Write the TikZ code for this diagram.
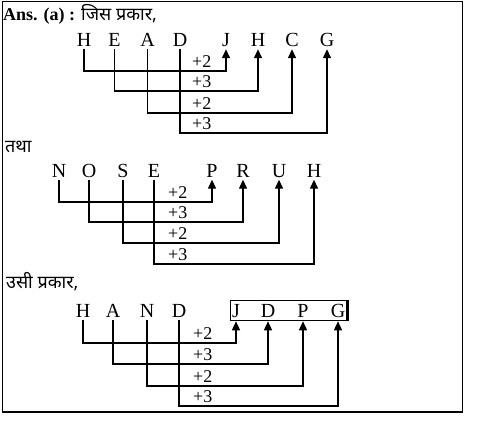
\documentclass[tikz,border=0pt]{standalone}
\usepackage{fontspec}
\setmainfont{Liberation Serif}
\newfontfamily\hindi[Script=Devanagari]{Noto Sans}
\usetikzlibrary{arrows.meta,fit}

\begin{document}
\begin{tikzpicture}[x=1pt, y=-1pt,
    letter/.style={font=\fontsize{20}{20}\selectfont, anchor=base, inner xsep=0pt, inner ysep=2.5pt, text height=13pt, text depth=0pt},
    addlbl/.style={font=\fontsize{18}{18}\selectfont, anchor=base west, inner sep=0pt},
    heading/.style={font=\fontsize{18}{18}\selectfont, anchor=base west, inner sep=0pt},
    link/.style={line width=1.4pt, -{Triangle[width=8pt,length=9pt]}}]
    \useasboundingbox (0,0) rectangle (481,426);
    \draw[line width=1.2pt] (2.5,1.5) rectangle (462.5,412);

    % Part 1: HEAD -> JHCG
    \node[heading] (ans) at (3,20) {\textbf{Ans. (a) :} {\hindi जिस प्रकार,}};
    \node[letter] (s11) at (84,46.5) {H};
    \node[letter] (s12) at (114.5,46.5) {E};
    \node[letter] (s13) at (147.5,46.5) {A};
    \node[letter] (s14) at (180,46.5) {D};
    \node[letter] (t11) at (226,46.5) {J};
    \node[letter] (t12) at (258,46.5) {H};
    \node[letter] (t13) at (292,46.5) {C};
    \node[letter] (t14) at (327,46.5) {G};
    \coordinate (r11) at (0,71);
    \coordinate (r12) at (0,91);
    \coordinate (r13) at (0,113);
    \coordinate (r14) at (0,133);
    \node[addlbl] (p11) at (192,67) {+2};
    \node[addlbl] (p12) at (192,87) {+3};
    \node[addlbl] (p13) at (192,109) {+2};
    \node[addlbl] (p14) at (192,129) {+3};
    \draw[link] (s11.south) |- (r11 -| t11) -- (t11.south);
    \draw[link] (s12.south) |- (r12 -| t12) -- (t12.south);
    \draw[link] (s13.south) |- (r13 -| t13) -- (t13.south);
    \draw[link] (s14.south) |- (r14 -| t14) -- (t14.south);

    % Part 2: NOSE -> PRUH
    \node[heading] (tatha) at (5,152) {\hindi तथा};
    \node[letter] (s21) at (59,177) {N};
    \node[letter] (s22) at (89,177) {O};
    \node[letter] (s23) at (123,177) {S};
    \node[letter] (s24) at (154,177) {E};
    \node[letter] (t21) at (212,177) {P};
    \node[letter] (t22) at (243,177) {R};
    \node[letter] (t23) at (279,177) {U};
    \node[letter] (t24) at (314,177) {H};
    \coordinate (r21) at (0,202);
    \coordinate (r22) at (0,222);
    \coordinate (r23) at (0,243);
    \coordinate (r24) at (0,264);
    \node[addlbl] (p21) at (168,198) {+2};
    \node[addlbl] (p22) at (168,218) {+3};
    \node[addlbl] (p23) at (168,239) {+2};
    \node[addlbl] (p24) at (168,260) {+3};
    \draw[link] (s21.south) |- (r21 -| t21) -- (t21.south);
    \draw[link] (s22.south) |- (r22 -| t22) -- (t22.south);
    \draw[link] (s23.south) |- (r23 -| t23) -- (t23.south);
    \draw[link] (s24.south) |- (r24 -| t24) -- (t24.south);

    % Part 3: HAND -> boxed answer
    \node[heading] (usi) at (6,288) {\hindi उसी प्रकार,};
    \node[letter] (s31) at (83,317) {H};
    \node[letter] (s32) at (113,317) {A};
    \node[letter] (s33) at (147,317) {N};
    \node[letter] (s34) at (179,317) {D};
    \node[letter] (t31) at (236,317) {J};
    \node[letter] (t32) at (268,317) {D};
    \node[letter] (t33) at (303,317) {P};
    \node[letter] (t34) at (338,317) {G};
    \node[draw, line width=1.2pt, inner xsep=1.5pt, inner ysep=1pt, fit=(t31)(t34)] (answer) {};
    \draw[line width=2.6pt] (answer.north east) -- (answer.south east);
    \coordinate (r31) at (0,343);
    \coordinate (r32) at (0,364);
    \coordinate (r33) at (0,386);
    \coordinate (r34) at (0,406);
    \node[addlbl] (p31) at (193,339) {+2};
    \node[addlbl] (p32) at (193,360) {+3};
    \node[addlbl] (p33) at (193,382) {+2};
    \node[addlbl] (p34) at (193,402) {+3};
    \draw[link] (s31.south) |- (r31 -| t31) -- (answer.south -| t31);
    \draw[link] (s32.south) |- (r32 -| t32) -- (answer.south -| t32);
    \draw[link] (s33.south) |- (r33 -| t33) -- (answer.south -| t33);
    \draw[link] (s34.south) |- (r34 -| t34) -- (answer.south -| t34);
\end{tikzpicture}
\end{document}
